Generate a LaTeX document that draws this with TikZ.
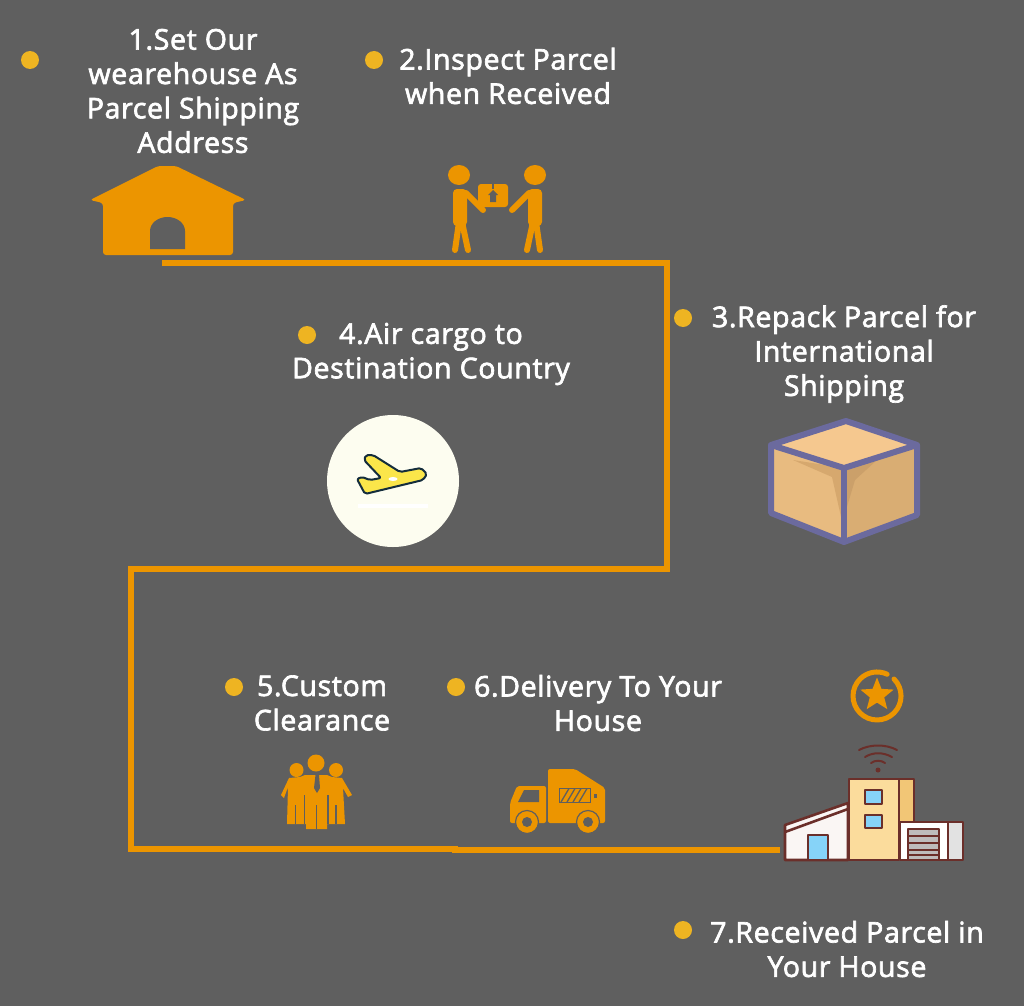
\documentclass[tikz,border=0pt]{standalone}
\usepackage{fontspec}
\setmainfont{Open Sans}[RawFeature={embolden=2.4}, LetterSpace=2.3]
\usetikzlibrary{shapes.geometric}
\definecolor{slate}{HTML}{5F5F5F}
\definecolor{amberline}{HTML}{EC9500}
\definecolor{dotyellow}{HTML}{EEB422}
\definecolor{boxedge}{HTML}{6B6A9E}
\definecolor{brickline}{HTML}{6B2F2A}
\definecolor{planeyellow}{HTML}{FBE64A}
\definecolor{skyblue}{HTML}{86D3F8}
\tikzset{
    steplabel/.style={text=white, font=\fontsize{28.5}{34.4}\selectfont, align=center, inner sep=0pt},
    bullet/.style={circle, fill=dotyellow, minimum size=18pt, inner sep=0pt},
    route/.style={draw=amberline, line width=6pt, line join=miter},
    icon/.style={fill=amberline, draw=none},
    limb/.style={draw=amberline, line width=6pt, line cap=round},
    cutline/.style={draw=slate, line width=1.3pt},
    wall/.style={draw=brickline, line width=2.6pt, line join=round},
    carton/.style={draw=boxedge, line width=6pt, line join=round}
}
\begin{document}
\begin{tikzpicture}[x=1pt,y=-1pt]
    \fill[slate] (0,0) rectangle (1024,1006);
    \useasboundingbox (0,0) rectangle (1024,1006);

    % labels and their dots
    \node[bullet] (dot1) at (30,60) {};
    \node[steplabel] (label1) at (193,91) {1.Set Our\\wearehouse As\\Parcel Shipping\\Address};
    \node[bullet] (dot2) at (374,60) {};
    \node[steplabel] (label2) at (508,76) {2.Inspect Parcel\\when Received};
    \node[bullet] (dot3) at (683,318) {};
    \node[steplabel] (label3) at (844,354) {3.Repack Parcel for\\International\\Shipping};
    \node[bullet] (dot4) at (307,335) {};
    \node[steplabel] (label4) at (431,354) {4.Air cargo to\\Destination Country};
    \node[bullet] (dot5) at (234,687) {};
    \node[steplabel] (label5) at (322,703) {5.Custom\\Clearance};
    \node[bullet] (dot6) at (456,687) {};
    \node[steplabel] (label6) at (598,703) {6.Delivery To Your\\House};
    \node[bullet] (dot7) at (683,930) {};
    \node[steplabel] (label7) at (847,949) {7.Received Parcel in\\Your House};

    % route
    \coordinate (depot) at (162,263);
    \coordinate (topright) at (667,263);
    \coordinate (midright) at (667,569);
    \coordinate (midleft) at (131,569);
    \coordinate (lowleft) at (131,849);
    \coordinate (joint) at (458,849);
    \coordinate (jointb) at (452,850);
    \coordinate (home) at (780,850);
    \draw[route] (depot) -- (topright) -- (midright) -- (midleft) -- (lowleft) -- (joint);
    \draw[route, line width=5.5pt] (jointb) -- (home);

    % warehouse
    \fill[icon, rounded corners=3pt] (90,200) -- (158,166) -- (176,166) -- (246,200) -- (233,203)
        -- (233,255) -- (103,255) -- (103,203) -- cycle;
    \fill[slate] (150,249) -- (150,231) arc[start angle=180,end angle=360,x radius=17.5,y radius=14] -- (185,249) -- cycle;

    % handing over
    \fill[icon] (459,175) ellipse[x radius=11,y radius=10];
    \fill[icon] (535,175) ellipse[x radius=11,y radius=10];
    \fill[icon, rounded corners=4pt] (453,189) rectangle (467,226);
    \fill[icon, rounded corners=4pt] (528,189) rectangle (542,226);
    \draw[limb] (466,193) -- (483,210);
    \draw[limb] (529,193) -- (512,210);
    \draw[limb] (459,222) -- (455,250);
    \draw[limb] (462,222) -- (468,250);
    \draw[limb] (536,222) -- (540,250);
    \draw[limb] (533,222) -- (527,250);
    \fill[icon, rounded corners=3pt] (478,184) rectangle (508,207);
    \fill[slate] (493,190) -- (498,195) -- (496,195) -- (496,202) -- (490,202) -- (490,195) -- (488,195) -- cycle;
    \fill[slate] (491.5,184) rectangle (494,189);

    % carton
    \fill[fill={rgb,255:red,245;green,200;blue,143}] (846,421) -- (917,445) -- (844,468) -- (771,445) -- cycle;
    \fill[fill={rgb,255:red,232;green,187;blue,128}] (771,445) -- (844,468) -- (844,542) -- (771,513) -- cycle;
    \fill[fill={rgb,255:red,217;green,173;blue,115}] (917,445) -- (844,468) -- (844,542) -- (917,515) -- cycle;
    \fill[fill={rgb,255:red,214;green,168;blue,110}] (793,460) -- (844,468) -- (844,530) -- (832,477) -- cycle;
    \fill[fill={rgb,255:red,203;green,160;blue,106}] (877,460) -- (846,470) -- (846,510) -- (855,480) -- cycle;
    \draw[carton] (771,445) -- (846,421) -- (917,445) -- (917,515) -- (844,542) -- (771,513) -- cycle;
    \draw[carton] (771,445) -- (844,468) -- (917,445);
    \draw[carton] (844,468) -- (844,542);

    % plane
    \node[circle, fill={rgb,255:red,253;green,253;blue,240}, minimum size=132pt, inner sep=0pt] (disc) at (393,481) {};
    \fill[white] (358,504) rectangle (428,508);
    \draw[fill=planeyellow, draw={rgb,255:red,20;green,45;blue,60}, line width=2pt, line join=round, rounded corners=2pt]
        (366,455) -- (373,455) -- (400,472) -- (421,468) -- (427,474) -- (423,480) -- (365,494) -- (357,479) -- (362,477) -- (370,480) -- (381,478) -- (364,460) -- cycle;
    \fill[white] (393,479) ellipse[x radius=4.5,y radius=2];

    % crowd
    \fill[icon] (316,763) circle[radius=8.5];
    \fill[icon] (296.5,770) circle[radius=7];
    \fill[icon] (336,770) circle[radius=7];
    \fill[icon] (281,795) -- (289,778) -- (300,777) -- (305,775) -- (327,775) -- (332,777) -- (342,778) -- (352,795) -- (348,797) -- (343,788)
        -- (345,824) -- (327,824) -- (327,829) -- (306,829) -- (306,824) -- (287,824) -- (288,787) -- (284,798) -- cycle;
    \fill[slate] (315.5,775) -- (319,775) -- (320,788) -- (317,793) -- (314,788) -- cycle;
    \draw[cutline] (295.5,805) -- (295.5,824);
    \draw[cutline] (304.7,795) -- (304.7,824);
    \draw[cutline] (316.5,805) -- (316.5,829);
    \draw[cutline] (328,795) -- (328,824);
    \draw[cutline] (336,805) -- (336,824);

    % truck
    \fill[icon, rounded corners=2pt] (548,769) -- (575,769) -- (605,788) -- (605,823) -- (548,823) -- cycle;
    \fill[icon, rounded corners=2pt] (517,786) -- (546,786) -- (546,823) -- (510,823) -- (510,803) -- cycle;
    \fill[slate] (524,790) -- (539,790) -- (539,802) -- (518,802) -- cycle;
    \draw[cutline, line width=0.9pt] (559,788.5) rectangle (590,802);
    \draw[cutline] (561,802) -- (569,788.5);
    \draw[cutline] (567,802) -- (575,788.5);
    \draw[cutline] (573,802) -- (581,788.5);
    \draw[cutline] (579,802) -- (587,788.5);
    \fill[slate] (594,794) rectangle (597,798);
    \draw[fill=amberline, draw=slate, line width=1.2pt] (527,822) circle[radius=11.5];
    \draw[fill=amberline, draw=slate, line width=1.2pt] (588,822) circle[radius=11.5];
    \fill[slate] (527,822) circle[radius=5];
    \fill[slate] (588,822) circle[radius=5];

    % received house
    \draw[amberline, line width=5pt, line cap=round] (894,679) arc[start angle=-45,end angle=295,radius=24];
    \node[star, star points=5, star point ratio=2.3, fill=amberline, minimum size=35pt, inner sep=0pt] (badge) at (877,695) {};
    \draw[brickline, line width=2pt, line cap=round] (859,750) .. controls (870,744) and (886,744) .. (897,750);
    \draw[brickline, line width=2pt, line cap=round] (865,757) .. controls (873,752) and (883,752) .. (892,757);
    \draw[brickline, line width=2pt, line cap=round] (871,763) .. controls (875,760) and (881,760) .. (885,763);
    \fill[brickline] (878,770) circle[radius=2.5];
    \filldraw[wall, fill={rgb,255:red,250;green,246;blue,244}] (785,860) -- (785,825) -- (848,803) -- (848,860) -- cycle;
    \draw[wall] (785,832) -- (848,809);
    \filldraw[wall, fill=skyblue] (808,835) rectangle (828,860);
    \filldraw[wall, fill={rgb,255:red,242;green,198;blue,118}] (899,779) rectangle (914,822);
    \filldraw[wall, fill={rgb,255:red,251;green,220;blue,156}] (849,779) rectangle (899,860);
    \filldraw[wall, fill=skyblue] (865,790) rectangle (882,804);
    \filldraw[wall, fill=skyblue] (865,815) rectangle (882,828);
    \filldraw[wall, fill=white] (900,822) rectangle (948,860);
    \filldraw[wall, fill={rgb,255:red,226;green,226;blue,226}] (948,822) rectangle (963,860);
    \filldraw[wall, fill={rgb,255:red,190;green,188;blue,188}] (908,829) rectangle (939,860);
    \draw[brickline, line width=1.5pt] (908,836) -- (939,836);
    \draw[brickline, line width=1.5pt] (908,843) -- (939,843);
    \draw[brickline, line width=1.5pt] (908,850) -- (939,850);
    \draw[brickline, line width=1.5pt] (908,855) -- (939,855);
\end{tikzpicture}
\end{document}
